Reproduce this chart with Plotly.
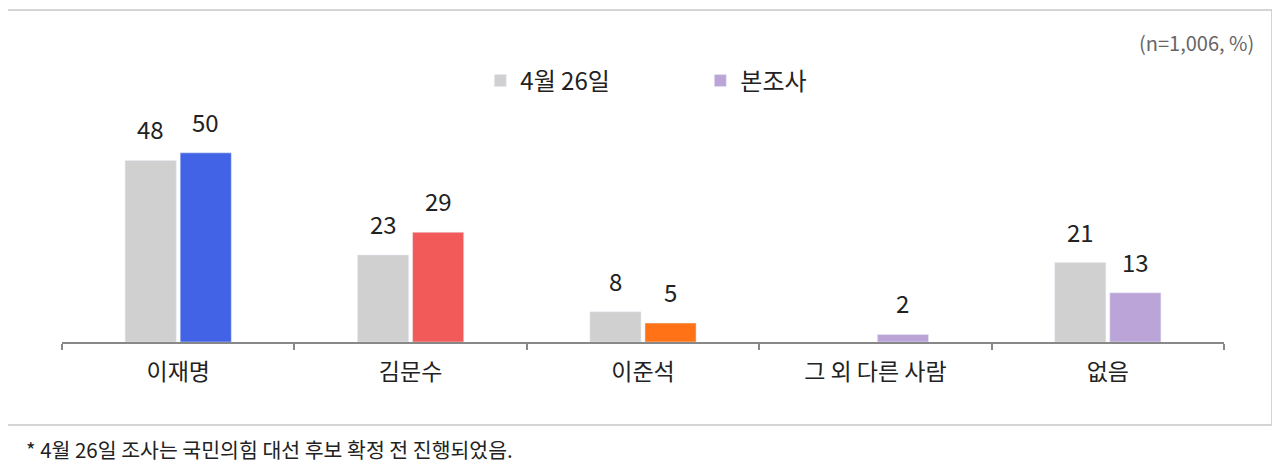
import plotly.graph_objects as go

# 후보 응답 (%)
categories = ["이재명", "김문수", "이준석", "그 외 다른 사람", "없음"]
apr26 = [48, 23, 8, None, 21]
current = [50, 29, 5, 2, 13]
current_colors = ["#4263E6", "#F25A5A", "#FF7316", "#BBA5D8", "#BBA5D8"]
legend_color = "#BBA5D8"

sample_note = "(n=1,006, %)"
footnote = "* 4월 26일 조사는 국민의힘 대선 후보 확정 전 진행되었음."

FONT = "Noto Sans CJK KR"
BAR_W = 0.22
GAP = 0.017

fig = go.Figure()
fig.add_trace(go.Bar(
    x=categories, y=apr26, name="4월 26일",
    marker_color="#D0D0D0", width=BAR_W, offset=-BAR_W - GAP / 2,
))
fig.add_trace(go.Bar(
    x=categories, y=current, name="본조사", showlegend=False,
    marker_color=current_colors, width=BAR_W, offset=GAP / 2,
))
# 범례 전용 (본조사 색상)
fig.add_trace(go.Bar(x=[categories[0]], y=[None], name="본조사",
                     marker_color=legend_color, width=BAR_W, offset=GAP / 2))

# 막대 위 값 레이블
for i, (a, b) in enumerate(zip(apr26, current)):
    for val, dx in ((a, -(BAR_W + GAP) / 2), (b, (BAR_W + GAP) / 2)):
        if val is None:
            continue
        fig.add_annotation(
            x=i + dx, y=val, text=str(val), showarrow=False,
            yanchor="bottom", yshift=12,
            font=dict(family=FONT, size=24, color="#222222"),
        )

fig.add_annotation(
    xref="paper", yref="paper", x=1.0275, y=1.32, text=sample_note,
    showarrow=False, xanchor="right", yanchor="middle",
    font=dict(family=FONT, size=20, color="#666666"),
)
fig.add_annotation(
    xref="paper", yref="paper", x=-0.033, y=-0.47, text=footnote,
    showarrow=False, xanchor="left", yanchor="middle",
    font=dict(family=FONT, size=20.5, color="#222222"),
)

# 바깥 테두리
fig.add_shape(
    type="rect", xref="paper", yref="paper",
    x0=-0.049, x1=1.0413, y0=-0.3656, y1=1.4626,
    line=dict(color="#C8C8C8", width=1.5), fillcolor="rgba(0,0,0,0)",
)

fig.update_layout(
    width=1280, height=472,
    margin=dict(l=54, r=64, t=107, b=138),
    paper_bgcolor="white", plot_bgcolor="white",
    font=dict(family=FONT, color="#222222"),
    showlegend=True,
    legend=dict(
        orientation="h", x=0.36, y=1.15, xanchor="left", yanchor="middle",
        entrywidth=175, itemwidth=30,
        font=dict(family=FONT, size=24, color="#222222"),
        bgcolor="rgba(0,0,0,0)",
    ),
    xaxis=dict(
        showline=True, linecolor="#888888", linewidth=1.5,
        ticks="outside", tickson="boundaries", ticklen=6, tickcolor="#888888",
        tickwidth=1.5, ticklabelstandoff=9,
        tickfont=dict(family=FONT, size=23, color="#222222"),
        showgrid=False, zeroline=False,
    ),
    yaxis=dict(visible=False, range=[0, 60], showgrid=False, zeroline=False),
)

fig.write_html("out.html")
